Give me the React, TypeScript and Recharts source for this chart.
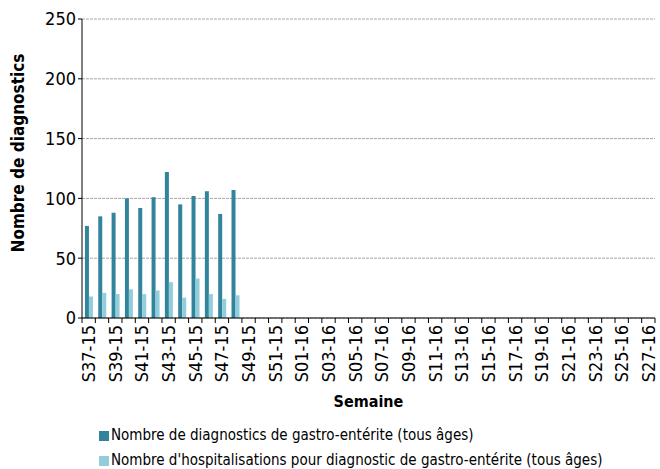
import React from 'react';
import { BarChart, Bar, XAxis, YAxis, CartesianGrid, Legend } from 'recharts';

const weeks = [
  'S37-15', 'S38-15', 'S39-15', 'S40-15', 'S41-15', 'S42-15', 'S43-15', 'S44-15', 'S45-15',
  'S46-15', 'S47-15', 'S48-15', 'S49-15', 'S50-15', 'S51-15', 'S52-15',
  'S01-16', 'S02-16', 'S03-16', 'S04-16', 'S05-16', 'S06-16', 'S07-16', 'S08-16', 'S09-16',
  'S10-16', 'S11-16', 'S12-16', 'S13-16', 'S14-16', 'S15-16', 'S16-16', 'S17-16', 'S18-16',
  'S19-16', 'S20-16', 'S21-16', 'S22-16', 'S23-16', 'S24-16', 'S25-16', 'S26-16', 'S27-16',
];
const diagnostics = [77, 85, 88, 100, 92, 101, 122, 95, 102, 106, 87, 107];
const hospitalisations = [18, 21, 20, 24, 20, 23, 30, 17, 33, 20, 16, 19];
const yTicks = [0, 50, 100, 150, 200, 250];

const SERIES_1 = 'Nombre de diagnostics de gastro-entérite (tous âges)';
const SERIES_2 = "Nombre d'hospitalisations pour diagnostic de gastro-entérite (tous âges)";

const data = weeks.map((w, i) => ({
  week: w,
  diag: diagnostics[i] ?? null,
  hosp: hospitalisations[i] ?? null,
}));

const FONT = '"Liberation Sans Narrow", "DejaVu Sans Condensed", "Roboto", sans-serif';
const DARK = '#31849b';
const LIGHT = '#92cddc';

const W = 660;
const H = 469;
const LEFT = 82;
const RIGHT = 5;
const BAND = (W - LEFT - RIGHT) / weeks.length;

const WeekTick = (props: any) => {
  const { x, y, index } = props;
  const lineTop = y - 7;
  return (
    <g>
      <line x1={x - BAND / 2} x2={x - BAND / 2} y1={lineTop} y2={lineTop + 5} stroke="#000" />
      {index === weeks.length - 1 && (
        <line x1={x + BAND / 2} x2={x + BAND / 2} y1={lineTop} y2={lineTop + 5} stroke="#000" />
      )}
      {index % 2 === 0 && (
        <text
          x={x}
          y={y}
          transform={`rotate(-90, ${x}, ${y})`}
          textAnchor="end"
          dominantBaseline="central"
          fontSize={18}
          fontFamily={FONT}
          fill="#000"
        >
          {props.payload.value}
        </text>
      )}
    </g>
  );
};

const YTitle = () => (
  <text
    x={18}
    y={153}
    transform="rotate(-90, 18, 153)"
    textAnchor="middle"
    dominantBaseline="central"
    fontFamily={FONT}
    fontSize={17}
    fontWeight="bold"
    fill="#000"
  >
    Nombre de diagnostics
  </text>
);

const LegendBox = () => (
  <div style={{ fontFamily: FONT, fontSize: 15, color: '#000', lineHeight: '25px' }}>
    {[
      { c: DARK, t: SERIES_1 },
      { c: LIGHT, t: SERIES_2 },
    ].map((e) => (
      <div key={e.t} style={{ display: 'flex', alignItems: 'center' }}>
        <span style={{ width: 10, height: 10, background: e.c, marginRight: 2, display: 'inline-block' }} />
        <span>{e.t}</span>
      </div>
    ))}
  </div>
);

const App: React.FC = () => {
  return (
    <div style={{ position: 'absolute', left: 0, top: 0, background: '#fff' }}>
      <BarChart
        width={W}
        height={H}
        data={data}
        margin={{ top: 19, right: RIGHT, bottom: 0, left: 0 }}
        barGap={0}
        barCategoryGap="22%"
      >
        <CartesianGrid vertical={false} stroke="#a6a6a6" strokeDasharray="3 1" />
        <XAxis
          dataKey="week"
          interval={0}
          tickLine={false}
          tickSize={5}
          tickMargin={2}
          axisLine={{ stroke: '#000' }}
          tick={<WeekTick />}
          height={101}
          label={{
            value: 'Semaine',
            position: 'insideBottom',
            offset: 12,
            style: { fontFamily: FONT, fontSize: 16, fontWeight: 'bold', fill: '#000' },
          }}
        />
        <YAxis
          width={LEFT}
          domain={[0, 250]}
          ticks={yTicks}
          tickSize={4}
          tickLine={{ stroke: '#000' }}
          axisLine={{ stroke: '#000' }}
          tick={{ fontFamily: FONT, fontSize: 18, fill: '#000' }}
          label={<YTitle />}
        />
        <Legend
          verticalAlign="bottom"
          align="left"
          content={<LegendBox />}
          wrapperStyle={{ left: 99, bottom: -4, width: 560 }}
        />
        <Bar dataKey="diag" name={SERIES_1} fill={DARK} isAnimationActive={false} />
        <Bar dataKey="hosp" name={SERIES_2} fill={LIGHT} isAnimationActive={false} />
      </BarChart>
    </div>
  );
};

export default App;
